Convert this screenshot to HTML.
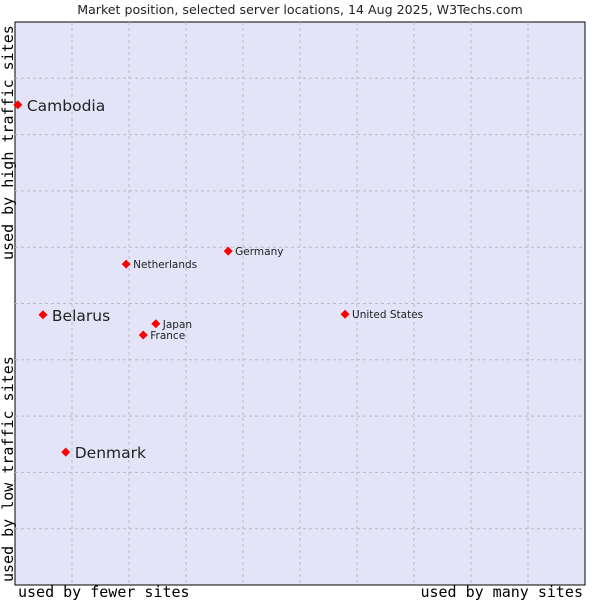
<!DOCTYPE html>
<html><head><meta charset="utf-8"><style>
body{margin:0;background:#fff;}
svg text{font-family:"DejaVu Sans","Liberation Sans",sans-serif;fill:#222;}
.mono{font-family:"DejaVu Sans Mono","Liberation Mono",monospace;fill:#000;}
</style></head><body>
<svg id="chart" width="600" height="600">
<text x="300" y="14" text-anchor="middle" font-size="12.6">Market position, selected server locations, 14 Aug 2025, W3Techs.com</text>
<rect x="15" y="22" width="570" height="563" fill="#e3e4f8" stroke="#000" stroke-width="1"/>
<g id="grid"></g>
<g id="marks"></g>
<text class="mono" x="18" y="597" font-size="15">used by fewer sites</text>
<text class="mono" x="583" y="597" font-size="15" text-anchor="end">used by many sites</text>
<text class="mono" transform="translate(13,582) rotate(-90)" font-size="15">used by low traffic sites</text>
<text class="mono" transform="translate(13,260) rotate(-90)" font-size="15">used by high traffic sites</text>
</svg>
<script>
const names=["Cambodia","Belarus","Denmark","Netherlands","Germany","Japan","France","United States"];
const xVals=[0.5,4.9,8.9,19.5,37.4,24.7,22.5,57.9];
const yVals=[85.3,48.0,23.6,57.0,59.3,46.4,44.4,48.1];
const bigLabel=[true,true,true,false,false,false,false,false];
const ns="http://www.w3.org/2000/svg";
const X=v=>15+v*5.7, Y=v=>585-v*5.63;
const grid=document.getElementById('grid'), marks=document.getElementById('marks');
for(let i=1;i<10;i++){
 const l=document.createElementNS(ns,'line');
 l.setAttribute('x1',X(i*10));l.setAttribute('x2',X(i*10));l.setAttribute('y1',22);l.setAttribute('y2',585);
 l.setAttribute('stroke','#bbb');l.setAttribute('stroke-dasharray','3,3');
 
 
 grid.appendChild(l);
 const h=document.createElementNS(ns,'line');
 h.setAttribute('y1',Y(i*10));h.setAttribute('y2',Y(i*10));h.setAttribute('x1',15);h.setAttribute('x2',585);
 h.setAttribute('stroke','#bbb');h.setAttribute('stroke-dasharray','3,3');
 
 
 grid.appendChild(h);
}
names.forEach((n,i)=>{
 const cx=X(xVals[i]), cy=Y(yVals[i]);
 const p=document.createElementNS(ns,'path');
 p.setAttribute('d',`M${cx-4.5} ${cy}L${cx} ${cy-4.5}L${cx+4.5} ${cy}L${cx} ${cy+4.5}Z`);
 p.setAttribute('fill','#f00');
 
 
 marks.appendChild(p);
 const t=document.createElementNS(ns,'text');
 t.setAttribute('x',cx+(bigLabel[i]?9:7));
 t.setAttribute('y',cy+(bigLabel[i]?6:4));
 t.setAttribute('font-size',bigLabel[i]?15.5:10.5);
 t.textContent=n;
 
 
 marks.appendChild(t);
});
</script>
</body></html>
